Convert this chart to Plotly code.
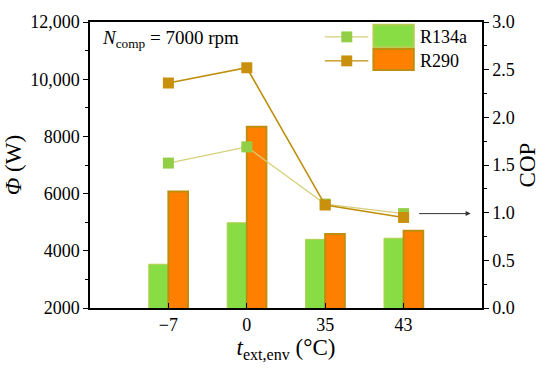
import plotly.graph_objects as go

temps = ["−7", "0", "35", "43"]
phi_r134a = [3530, 4980, 4400, 4440]
phi_r290 = [6070, 8340, 4590, 4700]
cop_r134a = [1.52, 1.69, 1.09, 0.99]
cop_r290 = [2.36, 2.52, 1.08, 0.95]

GREEN = "#88DD44"
ORANGE = "#FF7F00"
OLIVE = "#BE8E0C"
KHAKI = "#D6CF78"
FONT = "Times New Roman, Liberation Serif, serif"

fig = go.Figure()
fig.add_trace(go.Bar(x=temps, y=phi_r134a, name="R134a", marker=dict(color=GREEN, line=dict(color="#B5CF50", width=1)),
                     offsetgroup="a", showlegend=False))
fig.add_trace(go.Bar(x=temps, y=phi_r290, name="R290", marker=dict(color=ORANGE, line=dict(color=OLIVE, width=2)),
                     offsetgroup="b", showlegend=False))
fig.add_trace(go.Scatter(x=temps, y=cop_r134a, yaxis="y2", mode="lines+markers",
                         line=dict(color=KHAKI, width=1.2),
                         marker=dict(symbol="square", size=11, color="#93CF46", line=dict(width=0)),
                         showlegend=False))
fig.add_trace(go.Scatter(x=temps, y=cop_r290, yaxis="y2", mode="lines+markers",
                         line=dict(color=OLIVE, width=1.6),
                         marker=dict(symbol="square", size=11, color="#C8900C", line=dict(width=0)),
                         showlegend=False))

shapes = []
annotations = []
# manual legend
legend_rows = [("R134a", 0.948, KHAKI, "#93CF46", GREEN, "#B5CF50", 0.990, 0.913),
               ("R290", 0.864, OLIVE, "#C8900C", ORANGE, OLIVE, 0.906, 0.832)]
for name, yy, lc, mc, bc, blc, y1, y0 in legend_rows:
    shapes.append(dict(type="line", xref="paper", yref="paper", x0=0.599, x1=0.710, y0=yy, y1=yy,
                       line=dict(color=lc, width=1.4)))
    shapes.append(dict(type="rect", xref="paper", yref="paper", x0=0.641, x1=0.669, y0=yy - 0.019, y1=yy + 0.019,
                       fillcolor=mc, line=dict(width=0)))
    shapes.append(dict(type="rect", xref="paper", yref="paper", x0=0.723, x1=0.826, y0=y0, y1=y1,
                       fillcolor=bc, line=dict(color=blc, width=2)))
    annotations.append(dict(text=name, xref="paper", yref="paper", x=0.838, y=yy, xanchor="left", yanchor="middle",
                            showarrow=False, font=dict(family=FONT, size=18, color="black")))

annotations.append(dict(text="<i>N</i><sub>comp</sub> = 7000 rpm", xref="paper", yref="paper", x=0.025, y=0.99,
                        xanchor="left", yanchor="top", showarrow=False,
                        font=dict(family=FONT, size=19, color="black")))
annotations.append(dict(x=3.855, y=0.99, xref="x", yref="y2", ax=-53, ay=0, axref="pixel", ayref="pixel",
                        showarrow=True, arrowhead=2, arrowsize=1, arrowwidth=1, arrowcolor="#333333", text=""))

fig.update_layout(
    width=550, height=373,
    margin=dict(l=85, r=68, t=22, b=65),
    plot_bgcolor="white", paper_bgcolor="white",
    barmode="group", bargap=0.5, bargroupgap=0,
    font=dict(family=FONT, size=18, color="black"),
    shapes=shapes, annotations=annotations,
    xaxis=dict(type="category", range=[-1, 4], showline=True, linecolor="black", linewidth=1.5, mirror=True,
               ticks="inside", ticklen=5, tickcolor="black",
               title=dict(text="<i>t</i><sub>ext,env</sub> (°C)", font=dict(size=23), standoff=2),
               showgrid=False, zeroline=False),
    yaxis=dict(range=[2000, 12000], tickvals=[2000, 4000, 6000, 8000, 10000, 12000],
               ticktext=["2000", "4000", "6000", "8000", "10,000", "12,000"],
               showline=True, linecolor="black", linewidth=1.5, ticks="outside", ticklen=5, tickcolor="black",
               minor=dict(dtick=1000, ticks="outside", ticklen=3, tickcolor="black"),
               title=dict(text="<i>Φ</i> (W)", font=dict(size=23), standoff=2),
               showgrid=False, zeroline=False),
    yaxis2=dict(range=[0, 3.0], overlaying="y", side="right", tickvals=[0, 0.5, 1.0, 1.5, 2.0, 2.5, 3.0],
                ticktext=["0.0", "0.5", "1.0", "1.5", "2.0", "2.5", "3.0"],
                showline=True, linecolor="black", linewidth=1.5, ticks="outside", ticklen=5, tickcolor="black",
                minor=dict(dtick=0.25, ticks="outside", ticklen=3, tickcolor="black"),
                title=dict(text="COP", font=dict(size=23), standoff=4),
                showgrid=False, zeroline=False),
)

fig.write_html("out.html", config={"displayModeBar": False},
               post_script="document.body.style.margin='0';document.body.style.overflow='hidden';")
